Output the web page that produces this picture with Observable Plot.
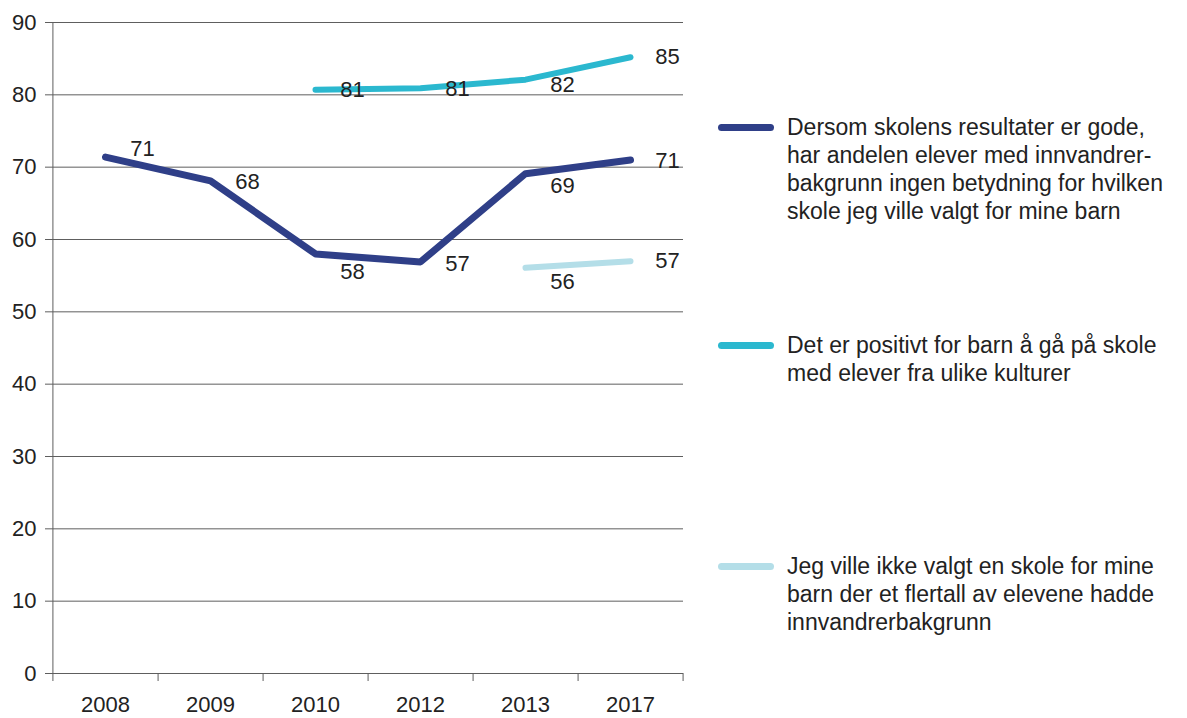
<!DOCTYPE html>
<html>
<head>
<meta charset="utf-8">
<script src="https://cdn.jsdelivr.net/npm/d3@7"></script>
<script src="https://cdn.jsdelivr.net/npm/@observablehq/plot@0.6"></script>
<style>
  html, body { margin: 0; padding: 0; background: #fff; }
  #wrap { position: relative; width: 1187px; height: 718px; font-family: "Liberation Sans", Arial, sans-serif; color: #222; }
  #chart { position: absolute; left: 0; top: 0; }
  .leg { position: absolute; left: 787px; font-size: 23px; line-height: 28px; color: #222; white-space: nowrap; }
  .sw { position: absolute; left: 718px; width: 56px; height: 7px; border-radius: 4px; }
</style>
</head>
<body>
<div id="wrap">
  <div id="chart"></div>
</div>
<script>
// ---- data ----
const years = ["2008", "2009", "2010", "2012", "2013", "2017"];
const seriesNames = [
  "Dersom skolens resultater er gode, har andelen elever med innvandrer-bakgrunn ingen betydning for hvilken skole jeg ville valgt for mine barn",
  "Det er positivt for barn å gå på skole med elever fra ulike kulturer",
  "Jeg ville ikke valgt en skole for mine barn der et flertall av elevene hadde innvandrerbakgrunn"
];
const legendLines = [
  ["Dersom skolens resultater er gode,", "har andelen elever med innvandrer-", "bakgrunn ingen betydning for hvilken", "skole jeg ville valgt for mine barn"],
  ["Det er positivt for barn å gå på skole", "med elever fra ulike kulturer"],
  ["Jeg ville ikke valgt en skole for mine", "barn der et flertall av elevene hadde", "innvandrerbakgrunn"]
];
const resultsValues  = [71.4, 68.1, 58.0, 56.9, 69.1, 71.0];
const positiveValues = [null, null, 80.7, 80.9, 82.1, 85.2];
const notChooseValues = [null, null, null, null, 56.1, 57.0];
const yTicks = [0, 10, 20, 30, 40, 50, 60, 70, 80, 90];

// ---- styling (not data) ----
const colors = ["#2f3f88", "#2bb8cf", "#b4dee8"];
const widths = [7, 6, 6];
const labelDy = [
  [-8, 1, 18, 2, 12, 1],
  [0, 0, 0, 1, 5, 0],
  [0, 0, 0, 0, 14, 0]
];

const allValues = [resultsValues, positiveValues, notChooseValues];
const rows = [];
allValues.forEach((vals, s) => {
  vals.forEach((v, i) => {
    if (v != null) rows.push({series: seriesNames[s], s, year: years[i], value: v, dy: labelDy[s][i]});
  });
});

const W = 700, H = 718;
const mL = 52, mR = 17, mT = 22, mB = 45;
const halfStep = (W - mL - mR) / years.length / 2;
const gridColor = "#5e5e5e";

const marks = [
  Plot.gridY(yTicks, {stroke: gridColor, strokeOpacity: 1, strokeWidth: 1}),
  Plot.ruleX([years[0]], {dx: -halfStep, stroke: gridColor}),
  Plot.axisY({ticks: yTicks, tickSize: 7, tickPadding: 9, stroke: gridColor, fill: "#222", label: null}),
  Plot.axisX({tickSize: 0, tickPadding: 23, fill: "#222", label: null}),
  Plot.axisX({ticks: years, tickSize: 8, dx: halfStep, stroke: gridColor, fill: "none", label: null}),
  Plot.axisX({ticks: [years[0]], tickSize: 8, dx: -halfStep, stroke: gridColor, fill: "none", label: null})
];

[0, 1, 2].forEach(s => {
  const d = rows.filter(r => r.s === s);
  marks.push(Plot.line(d, {x: "year", y: "value", stroke: colors[s], strokeWidth: widths[s], strokeLinecap: "round", strokeLinejoin: "round"}));
});

const dyVals = Array.from(new Set(rows.map(r => r.dy)));
dyVals.forEach(v => {
  marks.push(Plot.text(rows.filter(r => r.dy === v), {
    x: "year", y: "value", text: d => String(Math.round(d.value)),
    dx: 37, dy: v, fill: "#222", fontSize: 22
  }));
});

const plot = Plot.plot({
  width: W, height: H,
  marginLeft: mL, marginRight: mR, marginTop: mT, marginBottom: mB,
  style: {fontFamily: "'Liberation Sans', Arial, sans-serif", fontSize: "22px", color: "#222", background: "#fff", overflow: "visible"},
  x: {type: "point", domain: years, padding: 0.5},
  y: {domain: [0, 90]},
  marks
});
document.getElementById("chart").appendChild(plot);

// ---- legend (HTML, right of the chart) ----
const legTops = [113, 331, 552];
const wrap = document.getElementById("wrap");
legendLines.forEach((lines, s) => {
  const t = document.createElement("div");
  t.className = "leg";
  t.style.top = legTops[s] + "px";
  t.innerHTML = lines.map(l => l.replace(/&/g, "&amp;")).join("<br>");
  wrap.appendChild(t);
  const sw = document.createElement("div");
  sw.className = "sw";
  sw.style.background = colors[s];
  sw.style.top = (legTops[s] + 14 - 3.5) + "px";
  wrap.appendChild(sw);
});
</script>
</body>
</html>
